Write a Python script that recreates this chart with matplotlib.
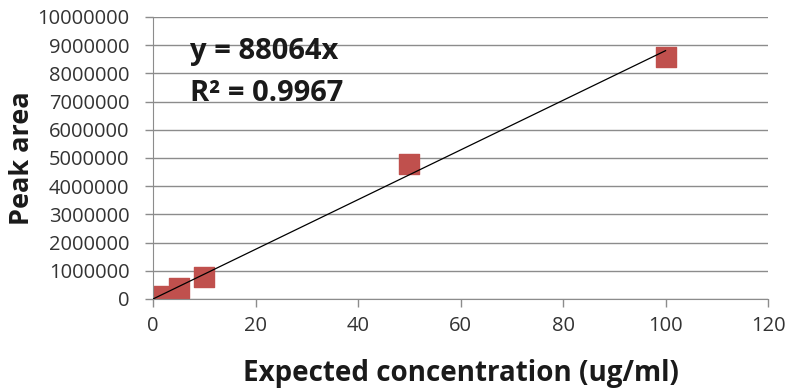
import numpy as np
import matplotlib.pyplot as plt

# calibration data
conc = [0.2, 1, 5, 10, 50, 100]
area = [10000, 90000, 400000, 790000, 4780000, 8590000]
slope = 88064
r2 = 0.9967

x_ticks = [0, 20, 40, 60, 80, 100, 120]
y_ticks = list(range(0, 10000001, 1000000))

plt.rcParams['font.family'] = ['Open Sans', 'DejaVu Sans']

fig = plt.figure(figsize=(7.9, 3.89), dpi=100)
ax = fig.add_axes([0.1937, 0.2314, 0.7785, 0.7249])

grid_c = '#8c8c8c'
for yt in y_ticks:
    ax.axhline(yt, color=grid_c, lw=1.0, zorder=0)

# trendline through origin
xl = np.array([0, 100])
ax.plot(xl, slope * xl, color='black', lw=0.9, zorder=3)
ax.scatter(conc, area, marker='s', s=210, color='#C0504D', zorder=2)

ax.set_xlim(0, 120)
ax.set_ylim(0, 10000000)
ax.set_xticks(x_ticks)
ax.set_yticks(y_ticks)
ax.set_xticklabels([str(t) for t in x_ticks])
ax.set_yticklabels([str(t) for t in y_ticks])
ax.tick_params(axis='both', labelsize=14.5, colors='#333333', length=6,
               width=1.0, direction='out')
ax.tick_params(axis='both', color=grid_c)
ax.tick_params(axis='x', pad=6)
ax.tick_params(axis='y', pad=11)

for s in ['top', 'right']:
    ax.spines[s].set_visible(False)
ax.spines['left'].set_color(grid_c)
ax.spines['bottom'].set_color(grid_c)

ax.set_xlabel('Expected concentration (ug/ml)', fontsize=20, fontweight='bold',
              color='#1a1a1a', labelpad=17)
ax.set_ylabel('Peak area', fontsize=19.5, fontweight='bold', color='#1a1a1a',
              labelpad=2)

ax.text(7.2, 8760000, f'y = {slope}x', fontsize=21, fontweight='bold',
        color='#1a1a1a', va='center')
ax.text(7.2, 7300000, f'R² = {r2}', fontsize=21, fontweight='bold',
        color='#1a1a1a', va='center')

fig.savefig('out.png', dpi=100)
